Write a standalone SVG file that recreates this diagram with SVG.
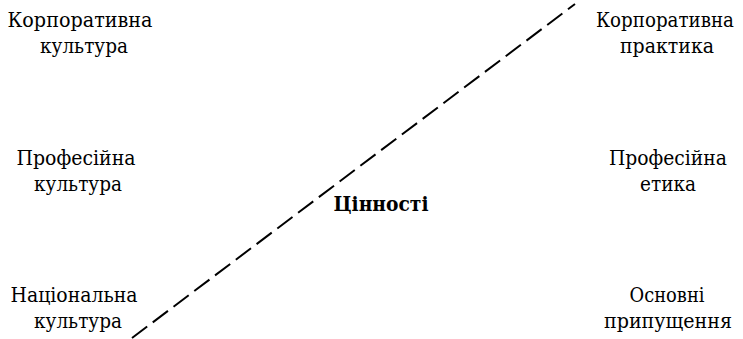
<svg xmlns="http://www.w3.org/2000/svg" width="743" height="339" viewBox="0 0 743 339">
<style>
text{text-anchor:middle;fill:#000}
.b{font-weight:bold}
.c{stroke:#000;stroke-width:2;stroke-dasharray:19 7;fill:none}
</style>
<rect width="743" height="339" fill="#fff"/>
<g id="connectors"><line class="c" x1="132" y1="338" x2="575" y2="4"/></g>
<g font-family="DejaVu Serif, Liberation Serif, serif" font-size="21">
<g id="n1"><text x="80" y="27" textLength="145" lengthAdjust="spacingAndGlyphs">Корпоративна</text><text x="84" y="53" textLength="88" lengthAdjust="spacingAndGlyphs">культура</text></g>
<g id="n2"><text x="76" y="165" textLength="119" lengthAdjust="spacingAndGlyphs">Професійна</text><text x="78" y="191" textLength="88" lengthAdjust="spacingAndGlyphs">культура</text></g>
<g id="n3"><text x="74" y="302" textLength="127" lengthAdjust="spacingAndGlyphs">Національна</text><text x="78" y="328" textLength="88" lengthAdjust="spacingAndGlyphs">культура</text></g>
<g id="n4"><text x="665" y="27" textLength="138" lengthAdjust="spacingAndGlyphs">Корпоративна</text><text x="667" y="53" textLength="94" lengthAdjust="spacingAndGlyphs">практика</text></g>
<g id="n5"><text x="668" y="165" textLength="118" lengthAdjust="spacingAndGlyphs">Професійна</text><text x="668" y="191" textLength="56" lengthAdjust="spacingAndGlyphs">етика</text></g>
<g id="n6"><text x="667" y="302" textLength="75" lengthAdjust="spacingAndGlyphs">Основні</text><text x="668" y="328" textLength="128" lengthAdjust="spacingAndGlyphs">припущення</text></g>
<g id="n7"><text class="b" x="381" y="211" textLength="95" lengthAdjust="spacingAndGlyphs">Цінності</text></g>
</g>
</svg>
